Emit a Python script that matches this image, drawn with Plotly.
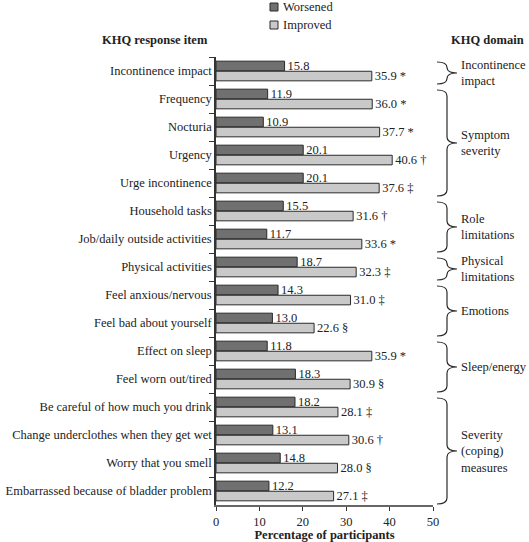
import plotly.graph_objects as go

items = ["Incontinence impact", "Frequency", "Nocturia", "Urgency", "Urge incontinence",
         "Household tasks", "Job/daily outside activities", "Physical activities",
         "Feel anxious/nervous", "Feel bad about yourself", "Effect on sleep",
         "Feel worn out/tired", "Be careful of how much you drink",
         "Change underclothes when they get wet", "Worry that you smell",
         "Embarrassed because of bladder problem"]
worsened = [15.8, 11.9, 10.9, 20.1, 20.1, 15.5, 11.7, 18.7, 14.3, 13.0, 11.8, 18.3, 18.2, 13.1, 14.8, 12.2]
improved = [35.9, 36.0, 37.7, 40.6, 37.6, 31.6, 33.6, 32.3, 31.0, 22.6, 35.9, 30.9, 28.1, 30.6, 28.0, 27.1]
improved_marks = ["*", "*", "*", "†", "‡", "†", "*", "‡", "‡", "§", "*", "§", "‡", "†", "§", "‡"]
series_names = ["Worsened", "Improved"]
series_colors = ["#707070", "#c9c9c9"]
domains = ["Incontinence<br>impact", "Symptom<br>severity", "Role<br>limitations",
           "Physical<br>limitations", "Emotions", "Sleep/energy", "Severity<br>(coping)<br>measures"]
domain_rows = [(0, 0), (1, 4), (5, 6), (7, 7), (8, 9), (10, 11), (12, 15)]
x_ticks = [0, 10, 20, 30, 40, 50]

FONT = "Liberation Serif"
FS = 12.5
TXT = "#222"
OUTLINE = "#2a2a2a"
W_PX, H_PX = 529, 542
L, R, T, B = 216, 96, 57, 37
PW, PH = W_PX - L - R, H_PX - T - B
n = len(items)

def px_x(px):
    return (px - L) / PW

def px_y(py):
    return 1 - (py - T) / PH

fig = go.Figure()
fig.add_trace(go.Bar(
    y=items, x=worsened, orientation="h", name=series_names[0],
    marker=dict(color=series_colors[0], line=dict(color=OUTLINE, width=1)),
    text=[f"{v:.1f}" for v in worsened], textposition="outside",
    textfont=dict(family=FONT, size=FS, color=TXT),
    constraintext="none", cliponaxis=False, hoverinfo="skip"))
fig.add_trace(go.Bar(
    y=items, x=improved, orientation="h", name=series_names[1],
    marker=dict(color=series_colors[1], line=dict(color=OUTLINE, width=1)),
    text=[f"{v:.1f} {m}" for v, m in zip(improved, improved_marks)], textposition="outside",
    textfont=dict(family=FONT, size=FS, color=TXT),
    constraintext="none", cliponaxis=False, hoverinfo="skip"))

shapes = []
annotations = []

# braces for domains
x0, x1, x2 = 437, 447, 457
band = PH / n
for (a, b), label in zip(domain_rows, domains):
    yt = T + a * band + 5
    yb = T + (b + 1) * band - 1
    ym = (yt + yb) / 2
    r = min(6, (yb - yt) / 4)
    pts = [
        f"M {px_x(x0)},{px_y(yt)}",
        f"Q {px_x(x1)},{px_y(yt)} {px_x(x1)},{px_y(yt + r)}",
        f"L {px_x(x1)},{px_y(ym - r)}",
        f"Q {px_x(x1)},{px_y(ym)} {px_x(x2)},{px_y(ym)}",
        f"Q {px_x(x1)},{px_y(ym)} {px_x(x1)},{px_y(ym + r)}",
        f"L {px_x(x1)},{px_y(yb - r)}",
        f"Q {px_x(x1)},{px_y(yb)} {px_x(x0)},{px_y(yb)}",
    ]
    shapes.append(dict(type="path", xref="paper", yref="paper", path=" ".join(pts),
                       line=dict(color=OUTLINE, width=1.2)))
    annotations.append(dict(xref="paper", yref="paper", x=px_x(459), y=px_y(ym),
                            text=label, showarrow=False, xanchor="left", yanchor="middle",
                            align="left", font=dict(family=FONT, size=FS, color=TXT)))

# legend (drawn manually to match the compact layout)
for i, (nm, col) in enumerate(zip(series_names, series_colors)):
    cy = 7 + 18 * i
    shapes.append(dict(type="rect", xref="paper", yref="paper",
                       x0=px_x(270), x1=px_x(278), y0=px_y(cy - 4), y1=px_y(cy + 4),
                       fillcolor=col, line=dict(color=OUTLINE, width=1)))
    annotations.append(dict(xref="paper", yref="paper", x=px_x(281), y=px_y(cy),
                            text=nm, showarrow=False, xanchor="left", yanchor="middle",
                            font=dict(family=FONT, size=FS, color=TXT)))

annotations.append(dict(xref="paper", yref="paper", x=px_x(155), y=px_y(40),
                        text="<b>KHQ response item</b>", showarrow=False,
                        xanchor="center", yanchor="middle",
                        font=dict(family=FONT, size=FS, color=TXT)))
annotations.append(dict(xref="paper", yref="paper", x=px_x(487), y=px_y(40),
                        text="<b>KHQ domain</b>", showarrow=False,
                        xanchor="center", yanchor="middle",
                        font=dict(family=FONT, size=FS, color=TXT)))

fig.update_layout(
    width=W_PX, height=H_PX,
    margin=dict(l=L, r=R, t=T, b=B, autoexpand=False),
    paper_bgcolor="white", plot_bgcolor="white",
    barmode="group", bargap=0.28, bargroupgap=0.05,
    font=dict(family=FONT, size=FS, color=TXT),
    showlegend=False,
    shapes=shapes, annotations=annotations,
    xaxis=dict(range=[0, 50], tickvals=x_ticks, ticktext=[str(v) for v in x_ticks],
               showgrid=False, zeroline=False, showline=True, linecolor="#666", linewidth=1.5,
               ticks="outside", ticklen=4, tickcolor="#333",
               tickfont=dict(family=FONT, size=FS, color=TXT),
               title=dict(text="<b>Percentage of participants</b>", standoff=6,
                          font=dict(family=FONT, size=FS, color=TXT))),
    yaxis=dict(autorange="reversed", showgrid=False, showline=True, linecolor="#333", linewidth=1.5,
               ticks="outside", tickson="boundaries", ticklen=5, tickcolor="#333",
               tickfont=dict(family=FONT, size=FS, color=TXT)),
)

fig.write_html("out.html", post_script="document.body.style.margin='0';",
               config={"displayModeBar": False})
